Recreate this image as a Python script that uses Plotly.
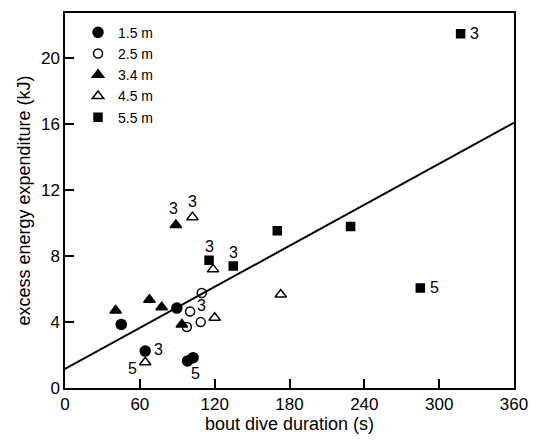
import plotly.graph_objects as go

# ---- data ----
d15_x = [45.1, 64.3, 89.7, 98.2, 102.7]
d15_y = [3.86, 2.24, 4.85, 1.64, 1.84]

d25_x = [97.7, 100.3, 108.8, 109.6]
d25_y = [3.70, 4.64, 4.00, 5.77]

d34_x = [40.6, 67.7, 77.5, 88.9, 93.7]
d34_y = [4.70, 5.36, 4.90, 9.90, 3.86]

d45_x = [64.3, 102.2, 118.7, 120.0, 173.0]
d45_y = [1.56, 10.37, 7.20, 4.26, 5.67]

d55_x = [115.5, 134.9, 170.2, 229.0, 284.9, 317.2]
d55_y = [7.75, 7.40, 9.55, 9.80, 6.07, 21.5]

fit_x = [0, 360]
fit_y = [1.16, 16.1]

series_names = ["1.5 m", "2.5 m", "3.4 m", "4.5 m", "5.5 m"]
x_ticks = [0, 60, 120, 180, 240, 300, 360]
y_ticks = [0, 4, 8, 12, 16, 20]

# point labels: (series index, point index, text, xshift, yshift)
point_labels = [
    (4, 5, "3", 14, 0),
    (4, 4, "5", 14, 0),
    (2, 3, "3", -2, 16),
    (3, 1, "3", 0, 16),
    (4, 0, "3", 0, 14),
    (4, 1, "3", 0, 14),
    (1, 1, "3", 11, 6),
    (0, 1, "3", 13, 2),
    (3, 0, "5", -13, -6),
    (0, 4, "5", 2, -16),
]

FONT = "Liberation Sans, Arial, Helvetica, sans-serif"

xs = [d15_x, d25_x, d34_x, d45_x, d55_x]
ys = [d15_y, d25_y, d34_y, d45_y, d55_y]
symbols = ["circle", "circle-open", "triangle-up", "triangle-up-open", "square"]
sizes = [10, 9, 10, 10, 8]

fig = go.Figure()

fig.add_trace(go.Scatter(x=fit_x, y=fit_y, mode="lines",
                         line=dict(color="black", width=2),
                         showlegend=False, hoverinfo="skip"))

for name, x, y, sym, sz in zip(series_names, xs, ys, symbols, sizes):
    fig.add_trace(go.Scatter(
        x=x, y=y, mode="markers", name=name,
        marker=dict(symbol=sym, size=sz, color="black",
                    line=dict(color="black", width=1.5)),
        cliponaxis=False,
    ))

for si, pi, txt, dx, dy in point_labels:
    fig.add_annotation(x=xs[si][pi], y=ys[si][pi], text=txt, showarrow=False,
                       xshift=dx, yshift=dy,
                       font=dict(family=FONT, size=16, color="black"))

axis_common = dict(
    showline=True, linecolor="black", linewidth=1.5, mirror=True,
    ticks="inside", ticklen=9, tickwidth=1.5, tickcolor="black",
    showgrid=False, zeroline=False,
    tickfont=dict(family=FONT, size=17, color="black"),
)

fig.update_xaxes(range=[0, 360], tickvals=x_ticks,
                 title=dict(text="bout dive duration (s)", standoff=4,
                            font=dict(family=FONT, size=18, color="black")),
                 **axis_common)
fig.update_yaxes(range=[0, 22.76], tickvals=y_ticks,
                 title=dict(text="excess energy expenditure (kJ)", standoff=6,
                            font=dict(family=FONT, size=18, color="black")),
                 **axis_common)

fig.update_layout(
    width=539, height=442,
    margin=dict(l=65, r=22, t=11, b=52),
    paper_bgcolor="white", plot_bgcolor="white",
    font=dict(family=FONT, color="black"),
    showlegend=True,
    legend=dict(x=0.029, y=0.99, xanchor="left", yanchor="top",
                bgcolor="rgba(0,0,0,0)", borderwidth=0,
                font=dict(family=FONT, size=14, color="black"),
                itemwidth=30, tracegroupgap=0),
)

fig.write_html("out.html")
